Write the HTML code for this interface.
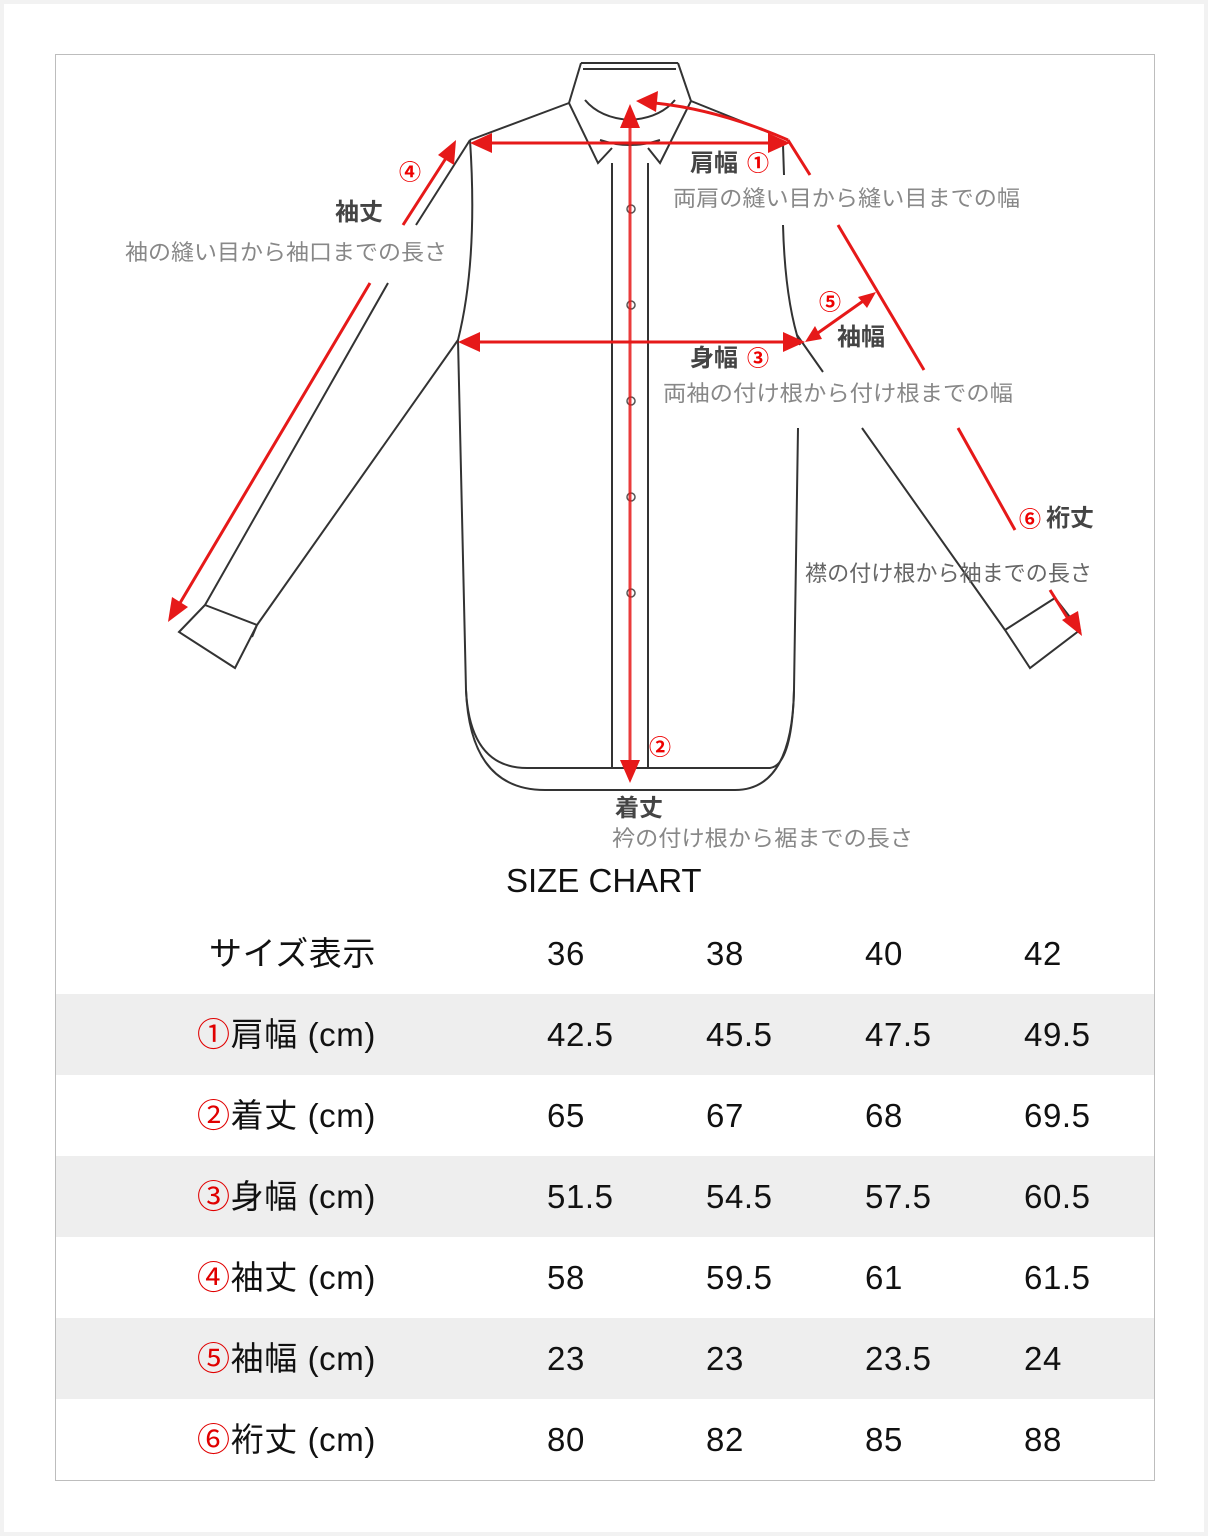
<!DOCTYPE html>
<html><head><meta charset="utf-8">
<style>
html,body{margin:0;padding:0;}
body{width:1208px;height:1536px;background:#f2f2f2;position:relative;overflow:hidden;font-family:"Liberation Sans","Noto Sans CJK JP",sans-serif;}
#page{position:absolute;left:4px;top:4px;width:1200px;height:1528px;background:#fff;}
#box{position:absolute;left:55px;top:54px;width:1098px;height:1425px;border:1px solid #bdbdbd;background:#fff;}
svg{position:absolute;left:0;top:0;}
.row{position:absolute;left:56px;width:1098px;height:81px;}
.g{background:#eeeeee;}
.t{position:absolute;font-size:33px;color:#111;line-height:40px;white-space:nowrap;letter-spacing:0.6px;}
.r{color:#e00000;}
</style></head><body>
<div id="page"></div>
<div id="box"></div>
<div class="row g" style="top:994px"></div>
<div class="row g" style="top:1156px"></div>
<div class="row g" style="top:1318px"></div>
<svg width="1208" height="1536" viewBox="0 0 1208 1536" font-family="Liberation Sans, Noto Sans CJK JP, sans-serif">
<g fill="none" stroke="#333" stroke-width="2">
<path d="M581,63 L678,63 M583,69 L676,69"/>
<path d="M581,63 L569,103 L598,163 L612,148"/>
<path d="M678,63 L691,101 L660,163 L648,148"/>
<path d="M585,100 Q600,118 630,120 Q660,118 675,100"/>
<path d="M600,140 Q630,150 660,140"/>
<path d="M569,103 L470,140 M691,101 L788,140"/>
<path d="M470,140 Q478,260 458,340 Q462,500 466,690 Q470,770 530,768 L770,768 Q792,765 794,690"/>
<path d="M466,690 Q470,790 545,790 L735,790 Q792,790 794,690"/>
<path d="M783,145 L784,175 M783,225 Q785,300 800,345 M798,428 L794,690"/>
<path d="M612,163 L612,768 M648,163 L648,768"/>
<path d="M470,140 L416,225 M388,283 L205,605 L179,632 L235,668 L257,625 L205,605 M252,637 L257,625"/>
<path d="M458,340 L257,625"/>
<path d="M797,335 L823,372 M862,428 L1005,630 L1030,668 L1080,630 L1055,598 L1005,630"/>
</g>
<g fill="#fff" stroke="#555" stroke-width="1.5">
<circle cx="631" cy="209" r="4"/><circle cx="631" cy="305" r="4"/><circle cx="631" cy="401" r="4"/><circle cx="631" cy="497" r="4"/><circle cx="631" cy="593" r="4"/>
</g>
<g stroke="#e61919" stroke-width="3" fill="none">
<path d="M488,143 L772,143"/>
<path d="M630,125 L630,765" stroke-opacity="0.85"/>
<path d="M475,342 L790,342"/>
<path d="M788,140 Q720,110 655,103"/>
<path d="M788,140 L810,175 M838,225 L924,370 M958,428 L1015,530 M1050,590 L1070,622"/>
<path d="M448,155 L403,225 M370,283 L180,603"/>
<path d="M815,335 L866,299"/>
</g>
<g fill="#e61919">
<polygon points="470,143 492,133 492,153"/>
<polygon points="790,143 768,133 768,153"/>
<polygon points="630,104 620,128 640,128"/>
<polygon points="630,783 620,760 640,760"/>
<polygon points="458,342 480,332 480,352"/>
<polygon points="805,342 783,332 783,352"/>
<polygon points="636,101 658,91 656,112"/>
<polygon points="456,140 454,165 438,155"/>
<polygon points="168,622 172,597 188,607"/>
<polygon points="1082,636 1062,620 1078,611"/>
<polygon points="805,342 815,326 822,339"/>
<polygon points="876,292 858,297 867,308"/>
</g>
<g font-weight="bold" fill="#444" font-size="24">
<text x="335" y="220">袖丈</text>
<text x="690" y="171">肩幅</text>
<text x="837" y="345">袖幅</text>
<text x="690" y="366">身幅</text>
<text x="1046" y="526">裄丈</text>
<text x="615" y="816">着丈</text>
</g>
<g fill="#e00" font-size="22" font-weight="bold">
<text x="399" y="180">④</text>
<text x="747" y="171">①</text>
<text x="819" y="310">⑤</text>
<text x="747" y="366">③</text>
<text x="1019" y="527">⑥</text>
<text x="649" y="755">②</text>
</g>
<g fill="#888" font-size="22">
<text x="125" y="260" textLength="322" lengthAdjust="spacingAndGlyphs">袖の縫い目から袖口までの長さ</text>
<text x="673" y="206" textLength="347" lengthAdjust="spacingAndGlyphs">両肩の縫い目から縫い目までの幅</text>
<text x="663" y="401" textLength="350" lengthAdjust="spacingAndGlyphs">両袖の付け根から付け根までの幅</text>
<text x="612" y="846" textLength="301" lengthAdjust="spacingAndGlyphs">衿の付け根から裾までの長さ</text>
<text x="805" y="581" textLength="287" lengthAdjust="spacingAndGlyphs" fill="#666">襟の付け根から袖までの長さ</text>
</g>
</svg>
<div class="t" style="left:506px;top:861px;font-size:33px;letter-spacing:0;">SIZE CHART</div>

<div class="t" style="left:209px;top:934px;">サイズ表示</div>
<div class="t" style="left:547px;top:934px;">36</div><div class="t" style="left:706px;top:934px;">38</div><div class="t" style="left:865px;top:934px;">40</div><div class="t" style="left:1024px;top:934px;">42</div>

<div class="t" style="left:197px;top:1015px;"><span class="r">①</span>肩幅 (cm)</div>
<div class="t" style="left:547px;top:1015px;">42.5</div><div class="t" style="left:706px;top:1015px;">45.5</div><div class="t" style="left:865px;top:1015px;">47.5</div><div class="t" style="left:1024px;top:1015px;">49.5</div>

<div class="t" style="left:197px;top:1096px;"><span class="r">②</span>着丈 (cm)</div>
<div class="t" style="left:547px;top:1096px;">65</div><div class="t" style="left:706px;top:1096px;">67</div><div class="t" style="left:865px;top:1096px;">68</div><div class="t" style="left:1024px;top:1096px;">69.5</div>

<div class="t" style="left:197px;top:1177px;"><span class="r">③</span>身幅 (cm)</div>
<div class="t" style="left:547px;top:1177px;">51.5</div><div class="t" style="left:706px;top:1177px;">54.5</div><div class="t" style="left:865px;top:1177px;">57.5</div><div class="t" style="left:1024px;top:1177px;">60.5</div>

<div class="t" style="left:197px;top:1258px;"><span class="r">④</span>袖丈 (cm)</div>
<div class="t" style="left:547px;top:1258px;">58</div><div class="t" style="left:706px;top:1258px;">59.5</div><div class="t" style="left:865px;top:1258px;">61</div><div class="t" style="left:1024px;top:1258px;">61.5</div>

<div class="t" style="left:197px;top:1339px;"><span class="r">⑤</span>袖幅 (cm)</div>
<div class="t" style="left:547px;top:1339px;">23</div><div class="t" style="left:706px;top:1339px;">23</div><div class="t" style="left:865px;top:1339px;">23.5</div><div class="t" style="left:1024px;top:1339px;">24</div>

<div class="t" style="left:197px;top:1420px;"><span class="r">⑥</span>裄丈 (cm)</div>
<div class="t" style="left:547px;top:1420px;">80</div><div class="t" style="left:706px;top:1420px;">82</div><div class="t" style="left:865px;top:1420px;">85</div><div class="t" style="left:1024px;top:1420px;">88</div>
</body></html>
